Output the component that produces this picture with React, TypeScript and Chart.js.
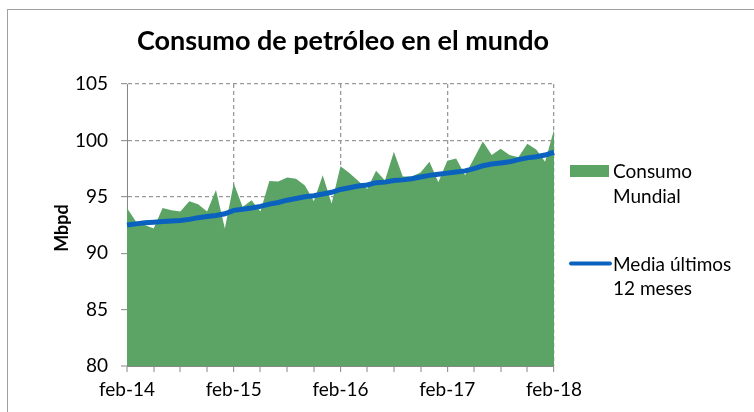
import React, { useEffect, useRef } from "react";
import { Chart, registerables } from "chart.js";

Chart.register(...registerables);

const months: string[] = [
  "feb-14", "mar-14", "abr-14", "may-14", "jun-14", "jul-14", "ago-14", "sep-14", "oct-14", "nov-14", "dic-14", "ene-15",
  "feb-15", "mar-15", "abr-15", "may-15", "jun-15", "jul-15", "ago-15", "sep-15", "oct-15", "nov-15", "dic-15", "ene-16",
  "feb-16", "mar-16", "abr-16", "may-16", "jun-16", "jul-16", "ago-16", "sep-16", "oct-16", "nov-16", "dic-16", "ene-17",
  "feb-17", "mar-17", "abr-17", "may-17", "jun-17", "jul-17", "ago-17", "sep-17", "oct-17", "nov-17", "dic-17", "ene-18",
  "feb-18",
];

const consumoMundial: number[] = [
  94.0, 92.8, 92.5, 92.2, 94.0, 93.8, 93.7, 94.6, 94.35, 93.7, 95.6, 92.2,
  96.2, 94.1, 94.7, 93.7, 96.4, 96.35, 96.7, 96.6, 96.0, 94.6, 96.9, 94.4,
  97.7, 97.1, 96.4, 95.7, 97.3, 96.45, 99.0, 96.8, 96.8, 97.15, 98.1, 96.3,
  98.2, 98.4, 96.9, 98.4, 99.9, 98.7, 99.25, 98.7, 98.5, 99.7, 99.2, 98.1,
  100.95,
];

const mediaUltimos12: number[] = [
  92.5, 92.6, 92.7, 92.75, 92.8, 92.85, 92.9, 93.0, 93.15, 93.25, 93.35, 93.5,
  93.8, 93.9, 94.0, 94.15, 94.35, 94.5, 94.7, 94.85, 95.0, 95.1, 95.25, 95.4,
  95.65, 95.8, 95.95, 96.05, 96.25, 96.3, 96.45, 96.5, 96.6, 96.75, 96.9, 97.0,
  97.1, 97.2, 97.3, 97.5, 97.75, 97.9, 98.0, 98.1, 98.3, 98.45, 98.55, 98.7,
  98.95,
];

const yTicks = { min: 80, max: 105, step: 5 };
const chartTitle = "Consumo de petróleo en el mundo";
const yAxisTitle = "Mbpd";
const legendConsumo = ["Consumo", "Mundial"];
const legendMedia = ["Media últimos", "12 meses"];

const GREEN = "#5BA466";
const BLUE = "#0A62BE";
const AXIS = "#868686";
const GRID = "#9A9A9A";
const FONT = "Lato, 'Open Sans', sans-serif";

export default function App() {
  const ref = useRef<HTMLCanvasElement | null>(null);

  useEffect(() => {
    if (!ref.current) return;

    const extras = {
      id: "extras",
      afterDraw(chart: any) {
        const ctx = chart.ctx;
        const area = chart.chartArea;
        ctx.save();
        // title
        ctx.fillStyle = "#000";
        ctx.font = `bold 27px ${FONT}`;
        ctx.textAlign = "center";
        ctx.textBaseline = "middle";
        ctx.fillText(chartTitle, 343, 41);
        // y axis title
        ctx.save();
        ctx.translate(62, (area.top + area.bottom) / 2 + 3);
        ctx.rotate(-Math.PI / 2);
        ctx.font = `bold 18px ${FONT}`;
        ctx.fillText(yAxisTitle, 0, 0);
        ctx.restore();
        // legend
        const lx = area.right + 16;
        ctx.font = `19px ${FONT}`;
        ctx.textAlign = "left";
        ctx.textBaseline = "middle";
        ctx.fillStyle = GREEN;
        ctx.fillRect(lx, 165, 39, 12);
        ctx.fillStyle = "#000";
        ctx.fillText(legendConsumo[0], lx + 43, 172);
        ctx.fillText(legendConsumo[1], lx + 43, 197);
        ctx.strokeStyle = BLUE;
        ctx.lineWidth = 4;
        ctx.lineCap = "round";
        ctx.beginPath();
        ctx.moveTo(lx + 1, 263.5);
        ctx.lineTo(lx + 40, 263.5);
        ctx.stroke();
        ctx.fillText(legendMedia[0], lx + 43, 265);
        ctx.fillText(legendMedia[1], lx + 43, 289);
        ctx.restore();
      },
    };

    const chart = new Chart(ref.current, {
      type: "line",
      data: {
        labels: months,
        datasets: [
          {
            label: legendMedia.join(" "),
            data: mediaUltimos12,
            borderColor: BLUE,
            borderWidth: 5,
            pointRadius: 0,
            tension: 0,
            fill: false,
            order: 0,
          },
          {
            label: legendConsumo.join(" "),
            data: consumoMundial,
            borderColor: GREEN,
            borderWidth: 0,
            backgroundColor: GREEN,
            pointRadius: 0,
            tension: 0,
            fill: "start",
            order: 1,
          },
        ],
      },
      plugins: [extras],
      options: {
        animation: false,
        responsive: false,
        maintainAspectRatio: false,
        layout: { padding: { left: 52, top: 84, right: 200, bottom: 0 } },
        plugins: {
          legend: { display: false },
          title: { display: false },
          tooltip: { enabled: false },
        },
        scales: {
          x: {
            type: "category",
            offset: false,
            afterFit: (s: any) => { s.height = 46; },
            border: { display: true, color: AXIS, width: 1, dash: [4, 3] },
            grid: {
              drawOnChartArea: true,
              drawTicks: true,
              tickLength: 6,
              color: GRID,
              tickColor: AXIS,
              tickBorderDash: [],
              lineWidth: (c: any) => (c.index > 0 && c.index % 12 === 0 ? 1.3 : 0),
              tickWidth: (c: any) => (c.index % 3 === 0 ? 1 : 0),
            },
            ticks: {
              autoSkip: false,
              maxRotation: 0,
              minRotation: 0,
              padding: 6,
              color: "#000",
              font: { family: FONT, size: 19 },
              callback: (_v: any, i: number) => (i % 12 === 0 ? months[i] : ""),
            },
          },
          y: {
            min: yTicks.min,
            max: yTicks.max,
            afterFit: (s: any) => { s.width = 75; },
            border: { display: true, color: AXIS, width: 1, dash: [4, 3] },
            grid: {
              drawTicks: true,
              tickLength: 6,
              color: GRID,
              tickColor: AXIS,
              tickBorderDash: [],
              lineWidth: (c: any) => (c.index > 0 ? 1.3 : 0),
              tickWidth: 1,
            },
            ticks: {
              stepSize: yTicks.step,
              padding: 13,
              color: "#000",
              font: { family: FONT, size: 19 },
            },
          },
        },
      },
    });
    return () => chart.destroy();
  }, []);

  return (
    <div style={{ position: "fixed", left: 0, top: 0, width: 754, height: 412, overflow: "hidden", background: "#fff" }}>
      <div style={{ position: "absolute", left: 7, top: 9, width: 800, height: 500, border: "1px solid #A0A0A0" }} />
      <canvas ref={ref} width={754} height={412} style={{ position: "absolute", left: 0, top: 0, width: 754, height: 412 }} />
    </div>
  );
}
